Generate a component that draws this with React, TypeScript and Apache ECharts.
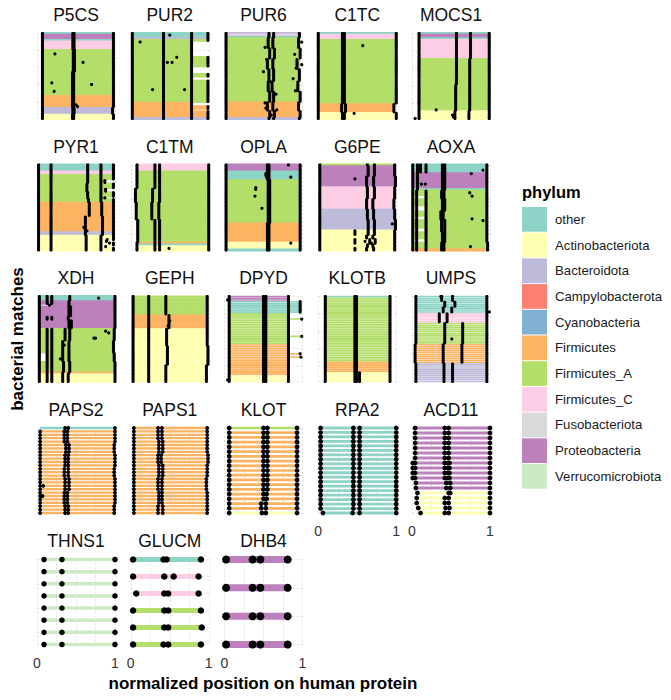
import React, { useEffect, useRef } from 'react';
import * as echarts from 'echarts';

const FONT = '"Liberation Sans", Arial, Helvetica, sans-serif';

const PHYLA = ['other', 'Actinobacteriota', 'Bacteroidota', 'Campylobacterota', 'Cyanobacteria', 'Firmicutes', 'Firmicutes_A', 'Firmicutes_C', 'Fusobacteriota', 'Proteobacteria', 'Verrucomicrobiota'];
const PHYLUM_COLORS = ['#8DD3C7', '#FFFFB3', '#BEBADA', '#FB8072', '#80B1D3', '#FDB462', '#B3DE69', '#FCCDE5', '#D9D9D9', '#BC80BD', '#CCEBC5'];

const FACETS = ['P5CS', 'PUR2', 'PUR6', 'C1TC', 'MOCS1', 'PYR1', 'C1TM', 'OPLA', 'G6PE', 'AOXA', 'XDH', 'GEPH', 'DPYD', 'KLOTB', 'UMPS', 'PAPS2', 'PAPS1', 'KLOT', 'RPA2', 'ACD11', 'THNS1', 'GLUCM', 'DHB4'];

const X_TICK_LABELS = ['0', '1'];

// blocks of matches: [phylum index, number of rows, start, end, ...dot positions]
const P5CS = [
  [0, 1, 0.06, 0.98, 0.07, 0.46, 0.475, 0.98],
  [9, 3, 0.06, 0.98, 0.07, 0.46, 0.475, 0.98],
  [0, 1, 0.06, 0.98, 0.07, 0.46, 0.475, 0.98],
  [7, 5, 0.06, 0.98, 0.07, 0.46, 0.475, 0.98],
  [6, 13, 0.06, 0.98, 0.07, 0.465, 0.48, 0.98],
  [6, 14, 0.06, 0.98, 0.07, 0.455, 0.47, 0.98],
  [5, 7, 0.06, 0.98, 0.07, 0.455, 0.47, 0.98],
  [2, 4, 0.06, 0.98, 0.07, 0.46, 0.475, 0.97],
  [1, 3, 0.06, 0.98, 0.07, 0.455, 0.47, 0.98],
];
const P5CS_EXTRA = [[0.23, 12], [0.22, 34], [0.59, 17], [0.70, 30], [0.19, 29], [0.50, 42], [0.52, 43]];

const PUR2 = [
  [0, 3, 0.02, 0.99, 0.02, 0.42, 0.78, 0.99],
  [2, 1, 0.02, 0.99, 0.02, 0.42, 0.78, 0.99],
  [6, 1, 0.02, 0.99, 0.02, 0.42, 0.78, 0.99],
  [6, 9, 0.02, 0.78, 0.02, 0.42, 0.78],
  [6, 6, 0.02, 0.99, 0.02, 0.42, 0.78, 0.99],
  [6, 4, 0.02, 0.78, 0.02, 0.42, 0.78],
  [6, 2, 0.02, 0.99, 0.02, 0.42, 0.78, 0.99],
  [6, 2, 0.02, 0.78, 0.02, 0.42, 0.78],
  [6, 13, 0.02, 0.99, 0.02, 0.42, 0.78, 0.99],
  [5, 2, 0.02, 0.78, 0.02, 0.42, 0.78],
  [5, 2, 0.02, 0.99, 0.02, 0.42, 0.78, 0.99],
  [5, 1, 0.02, 0.78, 0.02, 0.42, 0.78],
  [5, 4, 0.02, 0.99, 0.02, 0.42, 0.78, 0.99],
  [2, 1, 0.02, 0.99, 0.02, 0.42, 0.78, 0.99],
];
const PUR2_EXTRA = [[0.12, 5], [0.50, 1], [0.47, 17], [0.53, 17], [0.59, 14], [0.28, 33], [0.69, 33]];

const PUR6 = [
  [2, 1, 0.01, 0.97, 0.02, 0.57, 0.63, 0.96],
  [7, 1, 0.01, 0.97, 0.02, 0.57, 0.63, 0.96],
  [0, 1, 0.01, 0.97, 0.02, 0.57, 0.63, 0.96],
  [6, 6, 0.01, 0.97, 0.02, 0.56, 0.62, 0.95],
  [6, 6, 0.01, 0.97, 0.02, 0.58, 0.64, 0.97],
  [6, 6, 0.01, 0.97, 0.02, 0.55, 0.62, 0.93],
  [6, 7, 0.01, 0.97, 0.02, 0.57, 0.63, 0.96],
  [6, 6, 0.01, 0.97, 0.02, 0.56, 0.61, 0.94],
  [6, 6, 0.01, 0.97, 0.02, 0.58, 0.63, 0.97],
  [5, 5, 0.01, 0.97, 0.02, 0.55, 0.62, 0.95],
  [5, 4, 0.01, 0.97, 0.02, 0.58, 0.64, 0.97],
  [2, 1, 0.01, 0.97, 0.02, 0.57, 0.63, 0.96],
];
const PUR6_EXTRA = [[0.52, 8], [0.54, 15], [0.50, 22], [0.60, 28], [0.66, 35], [0.90, 12], [0.92, 20], [0.88, 26], [0.91, 33], [0.52, 40], [0.67, 44], [0.99, 5], [0.99, 18], [0.60, 47], [0.53, 43]];

const C1TC = [
  [0, 1, 0.0, 1.0, 0.0, 0.31, 0.335, 1.0],
  [7, 3, 0.0, 1.0, 0.0, 0.31, 0.335, 1.0],
  [6, 37, 0.0, 1.0, 0.0, 0.31, 0.335, 1.0],
  [5, 5, 0.0, 0.98, 0.0, 0.30, 0.35, 0.97],
  [1, 4, 0.0, 1.0, 0.0, 0.31, 0.335, 1.0],
];
const C1TC_EXTRA = [[0.57, 7], [0.46, 46]];

const MOCS1 = [
  [0, 1, 0.08, 0.99, 0.09, 0.57, 0.75, 0.99],
  [9, 2, 0.08, 0.99, 0.09, 0.57, 0.75, 0.99],
  [0, 1, 0.08, 0.99, 0.09, 0.57, 0.75, 0.99],
  [7, 11, 0.08, 0.99, 0.09, 0.57, 0.75, 0.99],
  [6, 15, 0.08, 0.99, 0.09, 0.57, 0.74, 0.99],
  [6, 15, 0.08, 0.99, 0.09, 0.56, 0.74, 0.99],
  [1, 5, 0.08, 0.99, 0.09, 0.55, 0.73, 0.99],
];
const MOCS1_EXTRA = [[0.31, 44], [0.04, 49], [0.52, 47], [0.53, 48]];

const PYR1 = [
  [0, 4, 0.02, 0.98, 0.02, 0.18, 0.65, 0.82, 0.98],
  [7, 2, 0.02, 0.98, 0.02, 0.18, 0.65, 0.82, 0.98],
  [6, 3, 0.02, 0.98, 0.02, 0.18, 0.65, 0.82, 0.98],
  [6, 2, 0.02, 0.86, 0.02, 0.18, 0.65, 0.82, 0.87],
  [6, 3, 0.02, 0.98, 0.02, 0.18, 0.64, 0.82, 0.98],
  [6, 2, 0.02, 0.86, 0.02, 0.18, 0.64, 0.82, 0.88],
  [6, 3, 0.02, 0.98, 0.02, 0.18, 0.65, 0.82, 0.98],
  [6, 1, 0.02, 0.86, 0.02, 0.18, 0.65, 0.82, 0.87],
  [6, 2, 0.02, 0.98, 0.02, 0.18, 0.66, 0.82, 0.98],
  [5, 8, 0.02, 0.98, 0.02, 0.18, 0.67, 0.83, 0.98],
  [5, 9, 0.02, 0.98, 0.02, 0.18, 0.62, 0.84, 0.98],
  [2, 2, 0.02, 0.98, 0.02, 0.18, 0.62, 0.84, 0.98],
  [1, 3, 0.02, 0.98, 0.02, 0.18, 0.63, 0.82, 0.98],
  [1, 1, 0.02, 0.86, 0.02, 0.18, 0.63, 0.82, 0.89],
  [1, 2, 0.02, 0.98, 0.02, 0.18, 0.63, 0.82, 0.98],
  [1, 1, 0.02, 0.86, 0.02, 0.18, 0.63, 0.82, 0.88],
  [1, 2, 0.02, 0.98, 0.02, 0.18, 0.63, 0.82, 0.98],
];
const PYR1_EXTRA = [[0.90, 43], [0.93, 45], [0.64, 38], [0.60, 36]];

const C1TM = [
  [7, 4, 0.07, 1.0, 0.08, 0.31, 0.37, 1.0],
  [6, 10, 0.07, 1.0, 0.08, 0.31, 0.37, 1.0],
  [6, 8, 0.07, 1.0, 0.06, 0.28, 0.37, 1.0],
  [6, 10, 0.07, 1.0, 0.07, 0.27, 0.36, 1.0],
  [6, 13, 0.07, 1.0, 0.09, 0.31, 0.37, 1.0],
  [5, 1, 0.07, 1.0, 0.08, 0.31, 0.37, 1.0],
  [0, 1, 0.07, 1.0, 0.08, 0.31, 0.37, 1.0],
  [1, 3, 0.07, 1.0, 0.08, 0.31, 0.37, 1.0],
];
const C1TM_EXTRA = [[0.49, 48]];

const OPLA = [
  [9, 4, 0.02, 0.97, 0.02, 0.55, 0.57, 0.97],
  [0, 5, 0.02, 0.97, 0.02, 0.55, 0.57, 0.97],
  [6, 25, 0.02, 0.97, 0.02, 0.56, 0.58, 0.97],
  [5, 11, 0.02, 0.97, 0.02, 0.55, 0.57, 0.97],
  [1, 4, 0.02, 0.97, 0.02, 0.55, 0.57, 0.97],
  [0, 1, 0.02, 0.97, 0.02, 0.55, 0.57, 0.97],
];
const OPLA_EXTRA = [[0.82, 0], [0.53, 5], [0.53, 6], [0.54, 7], [0.85, 7], [0.40, 13], [0.40, 14], [0.39, 18], [0.48, 25], [0.85, 45]];

const G6PE = [
  [6, 1, 0.02, 0.98, 0.02, 0.63, 0.72, 0.98],
  [9, 6, 0.02, 0.98, 0.02, 0.64, 0.72, 0.98],
  [9, 6, 0.02, 0.98, 0.02, 0.62, 0.71, 0.99],
  [7, 7, 0.02, 0.98, 0.02, 0.63, 0.72, 0.98],
  [7, 6, 0.02, 0.98, 0.02, 0.62, 0.70, 0.97],
  [2, 6, 0.02, 0.98, 0.02, 0.63, 0.71, 0.98],
  [2, 6, 0.02, 0.98, 0.02, 0.64, 0.72, 0.99],
  [1, 3, 0.02, 0.98, 0.02, 0.47, 0.64, 0.72, 0.98],
  [1, 2, 0.02, 0.98, 0.02, 0.62, 0.70, 0.98],
  [1, 3, 0.02, 0.98, 0.02, 0.47, 0.66, 0.73, 0.98],
  [1, 2, 0.02, 0.98, 0.02, 0.63, 0.70, 0.98],
  [1, 2, 0.02, 0.98, 0.02, 0.47, 0.62, 0.71, 0.98],
];
const G6PE_EXTRA = [[0.47, 8], [0.95, 34], [0.60, 44], [0.68, 45]];

const AOXA = [
  [0, 5, 0.0, 0.97, 0.01, 0.07, 0.11, 0.18, 0.39, 0.42, 0.96],
  [9, 9, 0.0, 0.97, 0.01, 0.07, 0.39, 0.42, 0.96],
  [0, 1, 0.0, 0.97, 0.01, 0.07, 0.39, 0.42, 0.96],
  [6, 3, 0.0, 0.97, 0.01, 0.06, 0.18, 0.38, 0.41, 0.96],
  [6, 2, 0.18, 0.97, 0.01, 0.06, 0.18, 0.38, 0.41, 0.96],
  [6, 4, 0.0, 0.97, 0.01, 0.06, 0.18, 0.39, 0.42, 0.96],
  [6, 3, 0.18, 0.97, 0.01, 0.06, 0.18, 0.39, 0.42, 0.96],
  [6, 3, 0.0, 0.97, 0.01, 0.06, 0.18, 0.37, 0.40, 0.96],
  [6, 2, 0.18, 0.97, 0.01, 0.06, 0.18, 0.37, 0.40, 0.96],
  [6, 5, 0.0, 0.97, 0.01, 0.06, 0.18, 0.38, 0.42, 0.96],
  [6, 2, 0.18, 0.97, 0.01, 0.06, 0.18, 0.38, 0.42, 0.96],
  [6, 4, 0.0, 0.97, 0.01, 0.06, 0.18, 0.39, 0.42, 0.96],
  [6, 2, 0.18, 0.97, 0.01, 0.06, 0.18, 0.39, 0.42, 0.96],
  [6, 4, 0.0, 0.97, 0.01, 0.06, 0.18, 0.38, 0.41, 0.97],
  [5, 1, 0.0, 0.97, 0.01, 0.06, 0.18, 0.38, 0.41, 0.97],
];
const AOXA_EXTRA = [[0.76, 5], [0.91, 3], [0.74, 16], [0.77, 18], [0.77, 31], [0.91, 32], [0.75, 47], [0.17, 11], [0.12, 11]];

const XDH = [
  [0, 3, 0.02, 1.0, 0.03, 0.13, 0.19, 0.42, 1.0],
  [9, 2, 0.02, 1.0, 0.03, 0.13, 0.19, 0.41, 1.0],
  [9, 1, 0.16, 1.0, 0.03, 0.16, 0.41, 1.0],
  [9, 6, 0.02, 1.0, 0.03, 0.41, 0.43, 1.0],
  [9, 2, 0.02, 1.0, 0.03, 0.13, 0.19, 0.40, 1.0],
  [9, 5, 0.02, 1.0, 0.03, 0.41, 0.44, 1.0],
  [6, 7, 0.02, 1.0, 0.03, 0.13, 0.19, 0.36, 0.42, 0.99],
  [6, 7, 0.02, 1.0, 0.03, 0.13, 0.19, 0.33, 0.41, 0.98],
  [6, 5, 0.13, 1.0, 0.03, 0.13, 0.19, 0.33, 0.41, 0.99],
  [6, 6, 0.02, 1.0, 0.03, 0.13, 0.19, 0.34, 0.42, 1.0],
  [5, 1, 0.02, 1.0, 0.03, 0.13, 0.19, 0.33, 0.41, 1.0],
  [1, 5, 0.02, 1.0, 0.03, 0.13, 0.19, 0.33, 0.40, 1.0],
];
const XDH_EXTRA = [[0.79, 1], [0.73, 24], [0.75, 24], [0.88, 20], [0.92, 21], [0.35, 28], [0.30, 36]];

const GEPH = [
  [6, 11, 0.03, 0.98, 0.03, 0.23, 0.45, 0.98],
  [5, 8, 0.03, 0.98, 0.03, 0.23, 0.49, 0.98],
  [1, 10, 0.03, 0.98, 0.03, 0.23, 0.46, 0.98],
  [1, 11, 0.03, 0.98, 0.03, 0.23, 0.47, 0.99],
  [1, 10, 0.03, 0.98, 0.03, 0.23, 0.45, 0.97],
];
const GEPH_EXTRA = [[0.50, 14], [0.48, 17]];

const DPYD = [
  [9, 3, 0.05, 0.82, 0.06, 0.50, 0.53, 0.82],
  [0, 7, 0.05, 0.96, 0.06, 0.50, 0.53, 0.82, 0.97],
  [6, 3, 0.05, 0.82, 0.06, 0.50, 0.53, 0.82],
  [6, 1, 0.05, 0.99, 0.06, 0.50, 0.53, 0.82, 0.99],
  [6, 9, 0.05, 0.82, 0.06, 0.50, 0.53, 0.82],
  [6, 1, 0.05, 0.99, 0.06, 0.50, 0.53, 0.82, 0.99],
  [6, 4, 0.05, 0.82, 0.06, 0.50, 0.53, 0.82],
  [5, 5, 0.05, 0.82, 0.06, 0.50, 0.53, 0.82],
  [5, 1, 0.05, 0.97, 0.06, 0.50, 0.53, 0.82, 0.97],
  [5, 1, 0.05, 0.82, 0.06, 0.50, 0.53, 0.82],
  [5, 1, 0.05, 0.98, 0.06, 0.50, 0.53, 0.82, 0.98],
  [5, 10, 0.05, 0.82, 0.06, 0.50, 0.53, 0.82],
  [1, 4, 0.05, 0.82, 0.06, 0.50, 0.53, 0.82],
];
const DPYD_EXTRA = [[0.04, 2], [0.04, 48]];

const KLOTB = [
  [0, 1, 0.09, 0.92, 0.09, 0.47, 0.49, 0.92],
  [6, 37, 0.09, 0.92, 0.09, 0.47, 0.49, 0.92],
  [5, 6, 0.09, 0.92, 0.09, 0.47, 0.49, 0.92],
  [1, 6, 0.09, 0.92, 0.09, 0.47, 0.49, 0.53, 0.92],
];
const KLOTB_EXTRA = [];

const UMPS = [
  [0, 3, 0.05, 0.96, 0.05, 0.38, 0.52, 0.96],
  [0, 3, 0.05, 0.96, 0.05, 0.42, 0.55, 0.96],
  [0, 3, 0.05, 0.96, 0.05, 0.40, 0.51, 0.96],
  [7, 5, 0.05, 0.96, 0.05, 0.35, 0.45, 0.96],
  [6, 11, 0.05, 0.96, 0.05, 0.42, 0.65, 0.96],
  [5, 10, 0.04, 0.96, 0.04, 0.40, 0.64, 0.96],
  [2, 10, 0.05, 0.96, 0.05, 0.41, 0.52, 0.96],
];
const UMPS_EXTRA = [[0.37, 0], [0.51, 22], [0.99, 8]];

const PAPS2 = [
  [0, 1, 0.04, 1.0, 0.36, 0.40, 1.0],
  [5, 4, 0.04, 1.0, 0.04, 0.35, 0.39, 1.0],
  [5, 3, 0.04, 1.0, 0.04, 0.37, 0.41, 0.99],
  [5, 4, 0.04, 1.0, 0.04, 0.36, 0.40, 1.0],
  [5, 3, 0.04, 1.0, 0.04, 0.35, 0.40, 0.99],
  [5, 4, 0.04, 1.0, 0.04, 0.36, 0.41, 1.0],
  [5, 4, 0.04, 1.0, 0.04, 0.35, 0.39, 1.0],
  [5, 3, 0.04, 1.0, 0.04, 0.36, 0.40, 0.99],
];
const PAPS2_EXTRA = [[0.08, 17], [0.07, 20]];

const PAPS1 = [
  [5, 4, 0.04, 0.98, 0.04, 0.35, 0.40, 0.98],
  [5, 4, 0.04, 0.98, 0.04, 0.36, 0.41, 0.98],
  [5, 3, 0.04, 0.98, 0.04, 0.35, 0.39, 0.99],
  [5, 4, 0.04, 0.98, 0.04, 0.36, 0.41, 0.98],
  [5, 4, 0.04, 0.98, 0.04, 0.35, 0.40, 0.97],
  [5, 4, 0.04, 0.98, 0.04, 0.36, 0.40, 0.98],
  [5, 3, 0.04, 0.98, 0.04, 0.35, 0.41, 0.98],
];
const PAPS1_EXTRA = [];

const KLOT = [
  [6, 1, 0.06, 0.93, 0.06, 0.50, 0.55, 0.93],
  [5, 13, 0.06, 0.93, 0.06, 0.50, 0.55, 0.93],
  [5, 2, 0.06, 0.93, 0.06, 0.50, 0.54, 0.93],
  [5, 2, 0.06, 0.93, 0.06, 0.47, 0.53, 0.93],
  [1, 1, 0.06, 0.93, 0.06, 0.48, 0.53, 0.93],
];
const KLOT_EXTRA = [];

const RPA2 = [
  [0, 19, 0.03, 1.0, 0.03, 0.45, 0.53, 1.0],
  [0, 1, 0.06, 1.0, 0.06, 0.44, 0.53, 1.0],
];
const RPA2_EXTRA = [];

const ACD11 = [
  [9, 7, 0.04, 1.0, 0.04, 0.42, 0.47, 1.0],
  [9, 4, 0.02, 1.0, 0.01, 0.04, 0.42, 0.46, 0.48, 1.0],
  [9, 2, 0.04, 1.0, 0.05, 0.44, 0.49, 1.0],
  [1, 1, 0.07, 1.0, 0.07, 0.47, 0.49, 1.0],
  [1, 2, 0.06, 1.0, 0.06, 0.42, 0.47, 1.0],
  [1, 1, 0.08, 1.0, 0.08, 0.43, 0.48, 1.0],
  [1, 1, 0.11, 1.0, 0.11, 0.42, 0.47, 1.0],
];
const ACD11_EXTRA = [];

const THNS1 = [[10, 8, 0.09, 1.0, 0.09, 0.32, 1.0]];
const THNS1_EXTRA = [];

const GLUCM = [
  [0, 1, 0.02, 0.91, 0.03, 0.42, 0.46, 0.90],
  [7, 1, 0.03, 0.85, 0.03, 0.43, 0.55, 0.87],
  [7, 1, 0.07, 0.85, 0.07, 0.43, 0.48, 0.87],
  [6, 1, 0.03, 0.90, 0.03, 0.43, 0.48, 0.90],
  [6, 1, 0.03, 0.91, 0.03, 0.43, 0.48, 0.91],
  [6, 1, 0.03, 0.90, 0.03, 0.42, 0.48, 0.90],
];
const GLUCM_EXTRA = [];

const DHB4 = [[9, 4, 0.02, 0.82, 0.02, 0.36, 0.46, 0.81]];
const DHB4_EXTRA = [];

const BLOCKS: Record<string, number[][]> = { P5CS, PUR2, PUR6, C1TC, MOCS1, PYR1, C1TM, OPLA, G6PE, AOXA, XDH, GEPH, DPYD, KLOTB, UMPS, PAPS2, PAPS1, KLOT, RPA2, ACD11, THNS1, GLUCM, DHB4 };
const EXTRAS: Record<string, number[][]> = {
  P5CS: P5CS_EXTRA, PUR2: PUR2_EXTRA, PUR6: PUR6_EXTRA, C1TC: C1TC_EXTRA, MOCS1: MOCS1_EXTRA, PYR1: PYR1_EXTRA,
  C1TM: C1TM_EXTRA, OPLA: OPLA_EXTRA, G6PE: G6PE_EXTRA, AOXA: AOXA_EXTRA, XDH: XDH_EXTRA, GEPH: GEPH_EXTRA,
  DPYD: DPYD_EXTRA, KLOTB: KLOTB_EXTRA, UMPS: UMPS_EXTRA, PAPS2: PAPS2_EXTRA, PAPS1: PAPS1_EXTRA, KLOT: KLOT_EXTRA,
  RPA2: RPA2_EXTRA, ACD11: ACD11_EXTRA, THNS1: THNS1_EXTRA, GLUCM: GLUCM_EXTRA, DHB4: DHB4_EXTRA,
};

// styling per facet: [segment line width, dot size]
const FACET_STYLE: Record<string, number[]> = {
  P5CS: [2.8, 3.2], PUR2: [2.8, 3.2], PUR6: [2.8, 3.2], C1TC: [2.8, 3.2], MOCS1: [2.8, 3.2],
  PYR1: [2.8, 3.2], C1TM: [2.8, 3.2], OPLA: [2.8, 3.2], G6PE: [2.8, 3.2], AOXA: [2.8, 3.2],
  XDH: [2.8, 3.2], GEPH: [2.2, 3.2], DPYD: [1.6, 3.2], KLOTB: [1.6, 3.2], UMPS: [1.6, 3.2],
  PAPS2: [2.3, 3.8], PAPS1: [2.3, 3.8], KLOT: [2.7, 4.8], RPA2: [2.8, 4.8], ACD11: [3, 4.8],
  THNS1: [3.5, 5.5], GLUCM: [5, 6.5], DHB4: [7, 8],
};

function expandRows(blocks: number[][]) {
  const rows: { p: number; s: number; e: number; dots: number[]; y: number }[] = [];
  let r = 0;
  for (const b of blocks) {
    for (let k = 0; k < b[1]; k++) {
      rows.push({ p: b[0], s: b[2], e: b[3], dots: b.slice(4), y: r });
      r++;
    }
  }
  return { rows, n: r };
}

function buildOption() {
  const grids: any[] = [];
  const xAxes: any[] = [];
  const yAxes: any[] = [];
  const series: any[] = [];
  const graphics: any[] = [];
  const gridLine = { show: true, lineStyle: { color: '#d6d6d6', type: [2, 2], width: 0.7 } };

  FACETS.forEach((name, i) => {
    const col = i % 5;
    const row = Math.floor(i / 5);
    const left = 37 + col * 93.75;
    const top = 33.5 + row * 131.5;
    const { rows, n } = expandRows(BLOCKS[name]);
    const [lw, ds] = FACET_STYLE[name];
    const showLabels = i >= 18;

    grids.push({ left, top, width: 78, height: 85 });
    xAxes.push({
      gridIndex: i, type: 'value', min: 0, max: 1, interval: 0.25,
      axisLine: { show: false }, axisTick: { show: false },
      axisLabel: {
        show: showLabels, margin: 11, fontSize: 14, color: '#333', fontFamily: FONT,
        formatter: (v: number) => (v === 0 ? X_TICK_LABELS[0] : v === 1 ? X_TICK_LABELS[1] : ''),
      },
      splitLine: gridLine,
    });
    yAxes.push({
      gridIndex: i, type: 'value', inverse: true, min: 0, max: Math.max(n - 1, 1), splitNumber: 4,
      axisLine: { show: false }, axisTick: { show: false }, axisLabel: { show: false },
      splitLine: gridLine,
    });

    series.push({
      type: 'custom', xAxisIndex: i, yAxisIndex: i, silent: true, clip: false,
      encode: { x: [0, 1], y: 2 },
      data: rows.map((r) => [r.s, r.e, r.y, r.p]),
      renderItem: (params: any, api: any) => {
        const a = api.coord([api.value(0), api.value(2)]);
        const b = api.coord([api.value(1), api.value(2)]);
        return {
          type: 'line',
          shape: { x1: a[0], y1: a[1], x2: b[0], y2: b[1] },
          style: { stroke: PHYLUM_COLORS[api.value(3)], lineWidth: lw },
        };
      },
    });

    const dots: number[][] = [];
    rows.forEach((r) => r.dots.forEach((d) => dots.push([d, r.y])));
    (EXTRAS[name] || []).forEach((d) => dots.push([d[0], d[1]]));
    series.push({
      type: 'scatter', xAxisIndex: i, yAxisIndex: i, silent: true, clip: false,
      symbol: 'circle', symbolSize: ds,
      itemStyle: { color: '#000', opacity: 1 },
      data: dots,
    });

    graphics.push({
      type: 'text', x: left + 39, y: top - 18.5, silent: true,
      style: { text: name, fontSize: 17.5, fontFamily: FONT, fill: '#111', align: 'center', verticalAlign: 'middle', textAlign: 'center', textVerticalAlign: 'middle' },
    });
  });

  // axis titles
  graphics.push({
    type: 'text', x: 17, y: 339, rotation: Math.PI / 2, silent: true,
    style: { text: 'bacterial matches', fontSize: 17, fontWeight: 'bold', fontFamily: FONT, fill: '#000', align: 'center', verticalAlign: 'middle', textAlign: 'center', textVerticalAlign: 'middle' },
  });
  graphics.push({
    type: 'text', x: 263, y: 683, silent: true,
    style: { text: 'normalized position on human protein', fontSize: 17, fontWeight: 'bold', fontFamily: FONT, fill: '#000', align: 'center', verticalAlign: 'middle', textAlign: 'center', textVerticalAlign: 'middle' },
  });

  // legend
  graphics.push({
    type: 'text', x: 522, y: 192, silent: true,
    style: { text: 'phylum', fontSize: 16.5, fontWeight: 'bold', fontFamily: FONT, fill: '#000', align: 'left', verticalAlign: 'middle', textAlign: 'left', textVerticalAlign: 'middle' },
  });
  PHYLA.forEach((p, k) => {
    const y = 207 + k * 25.7;
    graphics.push({ type: 'rect', silent: true, shape: { x: 522, y, width: 25, height: 24.7 }, style: { fill: PHYLUM_COLORS[k] } });
    graphics.push({
      type: 'text', x: 555, y: y + 12.35, silent: true,
      style: { text: p, fontSize: 13.2, fontFamily: FONT, fill: '#1a1a1a', align: 'left', verticalAlign: 'middle', textAlign: 'left', textVerticalAlign: 'middle' },
    });
  });

  return {
    animation: false,
    backgroundColor: '#ffffff',
    grid: grids,
    xAxis: xAxes,
    yAxis: yAxes,
    series,
    graphic: graphics,
  };
}

export default function App() {
  const ref = useRef<HTMLDivElement>(null);
  useEffect(() => {
    if (!ref.current) return;
    const chart = echarts.init(ref.current, undefined, { renderer: 'svg' });
    chart.setOption(buildOption() as any);
    return () => chart.dispose();
  }, []);
  return <div ref={ref} style={{ position: 'absolute', left: 0, top: 0, width: 671, height: 700, background: '#fff' }} />;
}
